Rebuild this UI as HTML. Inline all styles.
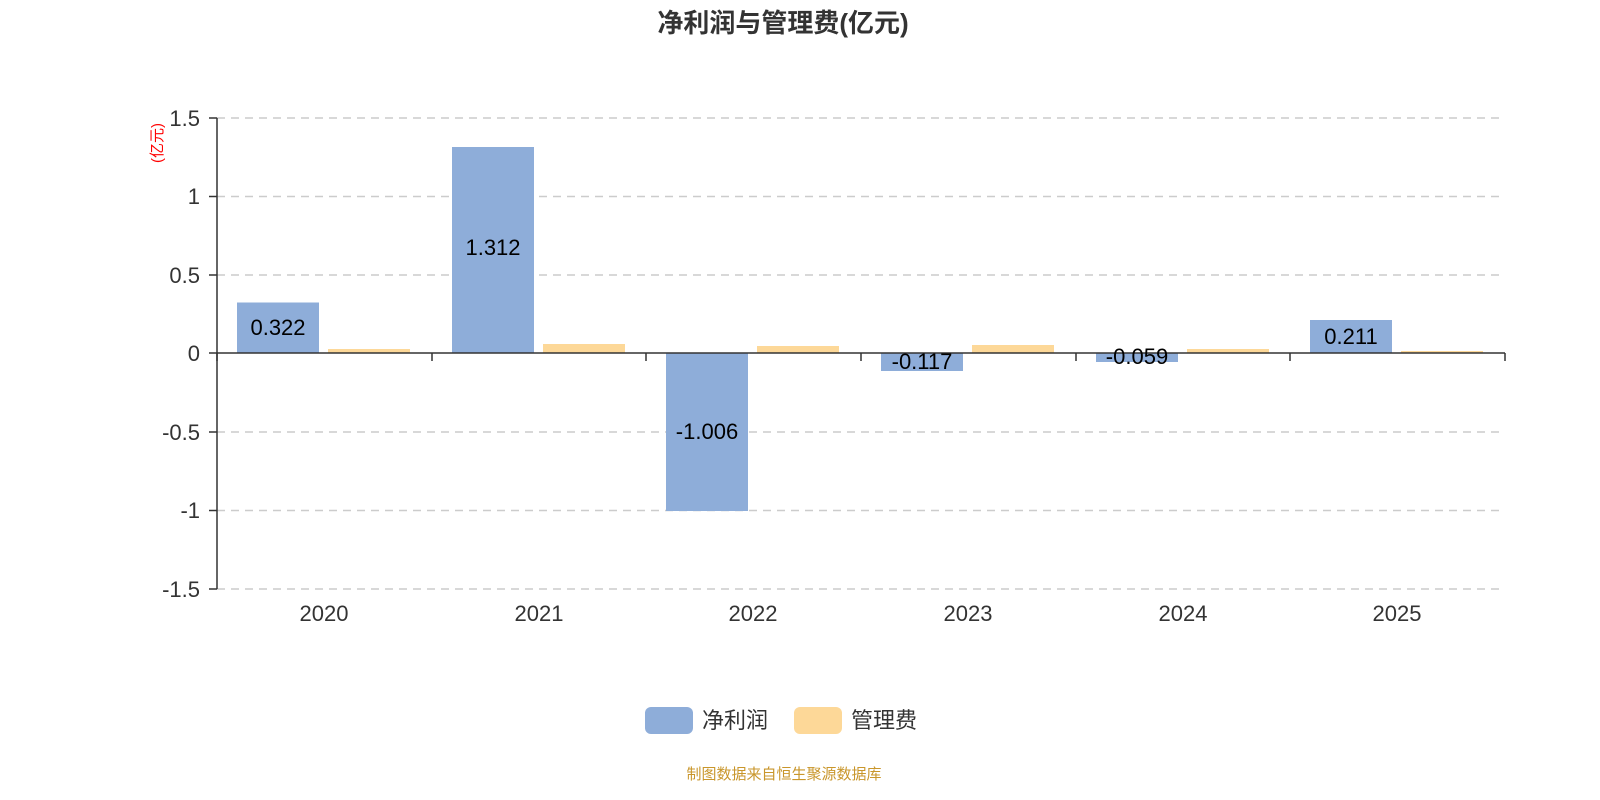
<!DOCTYPE html>
<html><head><meta charset="utf-8"><style>
html,body{margin:0;padding:0;background:#fff;}
svg{display:block;font-family:"Liberation Sans","Noto Sans CJK SC",sans-serif;}
</style></head><body>
<svg width="1600" height="800" viewBox="0 0 1600 800">
<text x="783" y="32" text-anchor="middle" font-size="26" font-weight="bold" fill="#333">净利润与管理费(亿元)</text>
<text transform="translate(162,143) rotate(-90)" text-anchor="middle" font-size="15" fill="#f00">(亿元)</text>
<g stroke="#ccc" stroke-width="1.5" stroke-dasharray="8,6">
<line x1="217" y1="118" x2="1505" y2="118"/>
<line x1="217" y1="196.5" x2="1505" y2="196.5"/>
<line x1="217" y1="275" x2="1505" y2="275"/>
<line x1="217" y1="432" x2="1505" y2="432"/>
<line x1="217" y1="510.5" x2="1505" y2="510.5"/>
<line x1="217" y1="589" x2="1505" y2="589"/>
</g>
<g font-size="22" fill="#333" text-anchor="end">
<text x="200" y="126">1.5</text><text x="200" y="204">1</text><text x="200" y="283">0.5</text>
<text x="200" y="361">0</text><text x="200" y="440">-0.5</text><text x="200" y="518">-1</text><text x="200" y="597">-1.5</text>
</g>
<g fill="#8eadd9">
<rect x="237" y="302.5" width="82" height="50.5"/>
<rect x="452" y="147" width="82" height="206"/>
<rect x="666" y="353" width="82" height="158"/>
<rect x="881" y="353" width="82" height="18"/>
<rect x="1096" y="353" width="82" height="9"/>
<rect x="1310" y="320" width="82" height="33"/>
</g>
<g fill="#fdd898">
<rect x="328" y="349" width="82" height="4"/>
<rect x="543" y="344" width="82" height="9"/>
<rect x="757" y="346" width="82" height="7"/>
<rect x="972" y="345" width="82" height="8"/>
<rect x="1187" y="349" width="82" height="4"/>
<rect x="1401" y="351" width="82" height="2"/>
</g>
<g stroke="#333" stroke-width="1.5">
<line x1="217" y1="118" x2="217" y2="589"/>
<line x1="209" y1="118" x2="217" y2="118"/><line x1="209" y1="196.5" x2="217" y2="196.5"/>
<line x1="209" y1="275" x2="217" y2="275"/><line x1="209" y1="353" x2="217" y2="353"/>
<line x1="209" y1="432" x2="217" y2="432"/><line x1="209" y1="510.5" x2="217" y2="510.5"/>
<line x1="209" y1="589" x2="217" y2="589"/>
<line x1="217" y1="353" x2="1505" y2="353"/>
<line x1="217" y1="353" x2="217" y2="361"/><line x1="432" y1="353" x2="432" y2="361"/>
<line x1="646" y1="353" x2="646" y2="361"/><line x1="861" y1="353" x2="861" y2="361"/>
<line x1="1076" y1="353" x2="1076" y2="361"/><line x1="1290" y1="353" x2="1290" y2="361"/>
<line x1="1505" y1="353" x2="1505" y2="361"/>
</g>
<g font-size="22" fill="#000" text-anchor="middle">
<text x="278" y="335">0.322</text>
<text x="493" y="255">1.312</text>
<text x="707" y="439">-1.006</text>
<text x="922" y="369">-0.117</text>
<text x="1137" y="364">-0.059</text>
<text x="1351" y="344">0.211</text>
</g>
<g font-size="22" fill="#333" text-anchor="middle">
<text x="324" y="621">2020</text><text x="539" y="621">2021</text><text x="753" y="621">2022</text>
<text x="968" y="621">2023</text><text x="1183" y="621">2024</text><text x="1397" y="621">2025</text>
</g>
<rect x="645" y="707" width="48" height="27" rx="6" fill="#8eadd9"/>
<text x="702" y="728" font-size="22" fill="#333">净利润</text>
<rect x="794" y="707" width="48" height="27" rx="6" fill="#fdd898"/>
<text x="851" y="728" font-size="22" fill="#333">管理费</text>
<text x="784" y="779" text-anchor="middle" font-size="15" fill="#c9962b">制图数据来自恒生聚源数据库</text>
</svg>
</body></html>
